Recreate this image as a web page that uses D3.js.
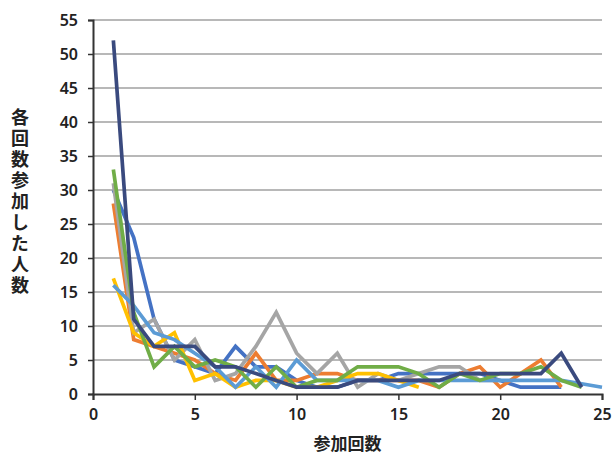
<!DOCTYPE html>
<html>
<head>
<meta charset="utf-8">
<script src="https://cdn.jsdelivr.net/npm/d3@7"></script>
<style>
  body { margin: 0; background: #fff; }
  svg { display: block; }
</style>
</head>
<body>
<div id="chart"></div>
<script>
// 参加回数 (x) for each series start at 1
const seriesNames = ["A", "B", "C", "D", "E", "F", "G"];
const seriesColors = ["#4472C4", "#ED7D31", "#A5A5A5", "#FFC000", "#5B9BD5", "#70AD47", "#3A4A7E"];

const blueVals      = [30, 23, 11, 5, 4, 3, 7, 4, 4, 2, 1, 1, 2, 2, 3, 3, 3, 3, 3, 2, 1, 1, 1];
const orangeVals    = [28, 8, 7, 6, 5, 3, 2, 6, 2, 2, 3, 3, 2, 2, 2, 2, 1, 3, 4, 1, 3, 5, 1];
const grayVals      = [31, 9, 11, 5, 8, 2, 3, 7, 12, 6, 3, 6, 1, 3, 2, 3, 4, 4, 2, 2];
const yellowVals    = [17, 9, 7, 9, 2, 3, 1, 2, 2, 1, 1, 2, 3, 3, 2, 1];
const lightBlueVals = [16, 13, 9, 8, 6, 4, 1, 4, 1, 5, 2, 2, 2, 2, 1, 2, 2, 2, 2, 2, 2, 2, 2, 1.5, 1];
const greenVals     = [33, 12, 4, 7, 4, 5, 4, 1, 4, 1, 2, 2, 4, 4, 4, 3, 1, 3, 2, 3, 3, 4, 2, 1];
const navyVals      = [52, 11, 7, 7, 7, 4, 4, 3, 2, 1, 1, 1, 2, 2, 2, 2, 2, 3, 3, 3, 3, 3, 6, 1];

const allSeries = [blueVals, orangeVals, grayVals, yellowVals, lightBlueVals, greenVals, navyVals];

const xTicks = [0, 5, 10, 15, 20, 25];
const yTicks = [0, 5, 10, 15, 20, 25, 30, 35, 40, 45, 50, 55];

const xTitle = "参加回数";
const yTitle = "各回数参加した人数";

var width = 614,
    height = 459;

var x = d3.scaleLinear().domain([0, 25]).range([93, 602]);
var y = d3.scaleLinear().domain([0, 55]).range([394, 20]);

var svg = d3.select("#chart").append("svg")
    .attr("width", width)
    .attr("height", height);

// gridlines
svg.append("g")
    .selectAll("line")
    .data(yTicks.filter(d => d > 0))
    .enter().append("line")
    .attr("x1", x(0))
    .attr("x2", x(25))
    .attr("y1", d => y(d))
    .attr("y2", d => y(d))
    .attr("stroke", "#a0a0a0")
    .attr("stroke-width", 1.3);

// axes
var yAxis = svg.append("g")
    .attr("transform", "translate(" + x(0) + ",0)")
    .call(d3.axisLeft(y).tickValues(yTicks).tickSize(5).tickPadding(10));

var xAxis = svg.append("g")
    .attr("transform", "translate(0," + y(0) + ")")
    .call(d3.axisBottom(x).tickValues(xTicks).tickSize(6).tickPadding(9));

[yAxis, xAxis].forEach(function (ax) {
    ax.select(".domain").attr("stroke", "#333").attr("stroke-width", 2);
    ax.selectAll(".tick line").attr("stroke", "#333").attr("stroke-width", 1.5);
    ax.selectAll(".tick text")
        .attr("fill", "#222")
        .style("font-family", "'Noto Sans', 'DejaVu Sans', sans-serif")
        .style("font-weight", "600")
        .style("font-size", "16px");
});

// series lines
var line = d3.line()
    .x(function (d, i) { return x(i + 1); })
    .y(function (d) { return y(d); });

svg.append("g")
    .selectAll("path")
    .data(allSeries)
    .enter().append("path")
    .attr("d", line)
    .attr("fill", "none")
    .attr("stroke", (d, i) => seriesColors[i])
    .attr("stroke-width", 3.7)
    .attr("stroke-linejoin", "miter")
    .attr("stroke-linecap", "butt");

// x title
svg.append("text")
    .attr("x", (x(0) + x(25)) / 2)
    .attr("y", 450)
    .attr("text-anchor", "middle")
    .attr("fill", "#222")
    .style("font-family", "'Noto Sans CJK JP', sans-serif")
    .style("font-weight", "700")
    .style("font-size", "17px")
    .text(xTitle);

// y title, vertical writing
svg.append("text")
    .attr("x", 20)
    .attr("y", 108)
    .attr("fill", "#222")
    .style("writing-mode", "vertical-rl")
    .style("text-orientation", "upright")
    .style("letter-spacing", "3px")
    .style("font-family", "'Noto Sans CJK JP', sans-serif")
    .style("font-weight", "700")
    .style("font-size", "18px")
    .text(yTitle);
</script>
</body>
</html>
